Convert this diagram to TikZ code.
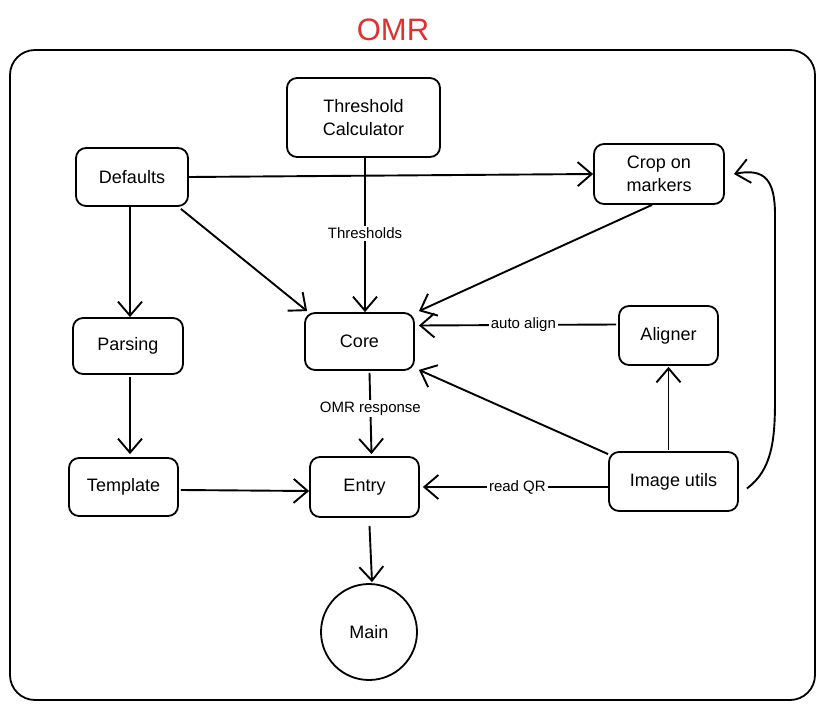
\documentclass[tikz,border=0pt]{standalone}
\usepackage{fontspec}
\setmainfont{Liberation Sans}
\usetikzlibrary{arrows.meta,calc}
\definecolor{omrred}{RGB}{224,49,49}
\begin{document}
\begin{tikzpicture}[x=1pt,y=-1pt,
  box/.style={draw, line width=1.8pt, rounded corners=10pt, align=center,
    font=\fontsize{18}{23}\selectfont, inner sep=0pt},
  conn/.style={line width=1.9pt, -{Straight Barb[length=14pt,width=24pt,line width=1.9pt]}},
  lbl/.style={fill=white, font=\fontsize{15}{17}\selectfont, inner sep=2pt}]
\useasboundingbox (0,0) rectangle (824,709);
\node[draw, line width=1.8pt, rounded corners=25pt, minimum width=805pt, minimum height=650pt] (frame) at (412.5,375) {};
\node[text=omrred, font=\fontsize{31}{34}\selectfont] (title) at (393,30) {OMR};

\node[box, minimum width=153pt, minimum height=79pt] (thr) at (363.5,117.5) {Threshold\\Calculator};
\node[box, minimum width=112pt, minimum height=58pt] (def) at (132,177) {Defaults};
\node[box, minimum width=130pt, minimum height=60pt] (crop) at (659,174) {Crop on\\markers};
\node[box, minimum width=110pt, minimum height=56pt] (parse) at (128,346) {Parsing};
\node[box, minimum width=109pt, minimum height=57pt] (core) at (359.5,341.5) {Core};
\node[box, minimum width=99pt, minimum height=59pt] (aln) at (668.5,335.5) {Aligner};
\node[box, minimum width=109pt, minimum height=58pt] (tmpl) at (123.5,487) {Template};
\node[box, minimum width=109pt, minimum height=60pt] (entry) at (364.5,487) {Entry};
\node[box, minimum width=129pt, minimum height=59pt] (img) at (673.5,481.5) {Image utils};
\node[draw, circle, line width=1.8pt, minimum size=96pt, inner sep=0pt, font=\fontsize{18}{23}\selectfont] (main) at (369,632) {Main};

\draw[conn] (def.east) -- (crop.west);
\draw[conn] ($(def.south)+(-2,0)$) -- ($(parse.north)+(2,0)$);
\draw[conn] ($(def.south east)+(-8,2)$) -- ($(core.north west)+(3,-1)$);
\draw[conn] ($(thr.south)+(1.5,0)$) -- node[lbl, pos=0.49] {Thresholds} ($(core.north)+(5.5,0)$);
\draw[conn] ($(crop.south)+(-7,0)$) -- ($(core.north east)+(4,-1)$);
\draw[conn] ($(aln.west)+(-2,-11)$) -- node[lbl, pos=0.47] {auto align} ($(core.east)+(4,-16)$);
\draw[conn] ($(img.north west)+(0,3)$) -- ($(core.south east)+(4,-1)$);
\draw[conn] ($(img.north)+(-5,-1)$) -- ($(aln.south)+(0,1)$);
\draw[conn] ($(img.west)+(0,5.5)$) -- node[lbl, pos=0.49] {read QR} ($(entry.east)+(3,0)$);
\draw[conn] ($(parse.south)+(2,2)$) -- ($(tmpl.north)+(6.5,-3)$);
\draw[conn] ($(tmpl.east)+(2,3)$) -- ($(entry.west)+(0,4)$);
\draw[conn] ($(core.south)+(10,2)$) -- node[lbl, pos=0.44] {OMR response} ($(entry.north)+(7,-2)$);
\draw[conn] ($(entry.south)+(5,8)$) -- ($(main.north)+(3,-1)$);
\draw[conn] ($(img.east)+(8,7)$) .. controls (772,470) and (775,440) .. (775,400)
  -- (775,215) .. controls (775,180) and (765,168) .. ($(crop.east)+(9,0)$);
\end{tikzpicture}
\end{document}
